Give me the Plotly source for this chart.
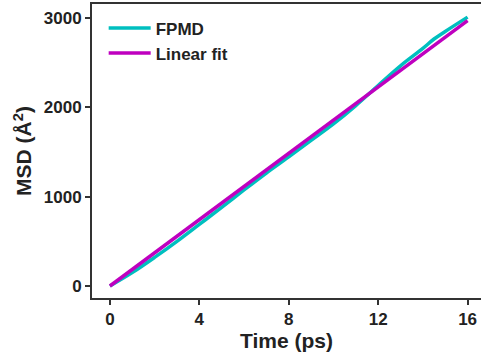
import plotly.graph_objects as go

# FPMD mean squared displacement
time_ps = [0, 1, 2, 3, 4, 5, 6, 7, 8, 9, 10, 11, 12, 13, 14, 14.5, 15, 16]
msd_fpmd = [0, 150, 320, 500, 690, 880, 1075, 1265, 1445, 1630, 1815, 2020, 2245, 2465, 2660, 2765, 2850, 3010]

# linear fit end points
fit_time = [0, 16]
fit_msd = [0, 2970]

font_family = "Liberation Sans, Arial, sans-serif"
axis_color = "#333333"

fig = go.Figure()
fig.add_trace(go.Scatter(
    x=time_ps, y=msd_fpmd, mode="lines", name="FPMD",
    line=dict(color="#00BFBF", width=3.5, shape="spline"),
))
fig.add_trace(go.Scatter(
    x=fit_time, y=fit_msd, mode="lines", name="Linear fit",
    line=dict(color="#BF00BF", width=3.5),
))

fig.update_layout(
    width=481, height=358,
    margin=dict(l=92, r=0, t=4, b=60),
    plot_bgcolor="white", paper_bgcolor="white",
    font=dict(family=font_family, color="#222222", size=17, weight="bold"),
    showlegend=True,
    legend=dict(x=0.03, y=0.978, xanchor="left", yanchor="top", itemwidth=42,
                bgcolor="rgba(0,0,0,0)", font=dict(size=17, weight="bold")),
)
fig.update_xaxes(
    range=[-0.8, 16.6], tickvals=[0, 4, 8, 12, 16], automargin=False,
    showgrid=False, zeroline=False,
    showline=True, linewidth=2, linecolor=axis_color, mirror=True,
    ticks="outside", ticklen=5, tickwidth=2, tickcolor=axis_color,
    tickfont=dict(size=17, weight="bold"),
    title=dict(text="Time (ps)", font=dict(size=21, weight="bold"), standoff=4),
)
fig.update_yaxes(
    range=[-134, 3157], tickvals=[0, 1000, 2000, 3000], automargin=False,
    showgrid=False, zeroline=False,
    showline=True, linewidth=2, linecolor=axis_color,
    ticks="outside", ticklen=5, tickwidth=2, tickcolor=axis_color,
    tickfont=dict(size=17, weight="bold"),
    title=dict(text="MSD (Å<sup>2</sup>)", font=dict(size=21, weight="bold"), standoff=6),
)

# the page body has a default 8px margin; drop it so the figure sits at 0,0
fig.write_html("out.html", config={"displayModeBar": False},
               post_script="document.body.style.margin='0';")
